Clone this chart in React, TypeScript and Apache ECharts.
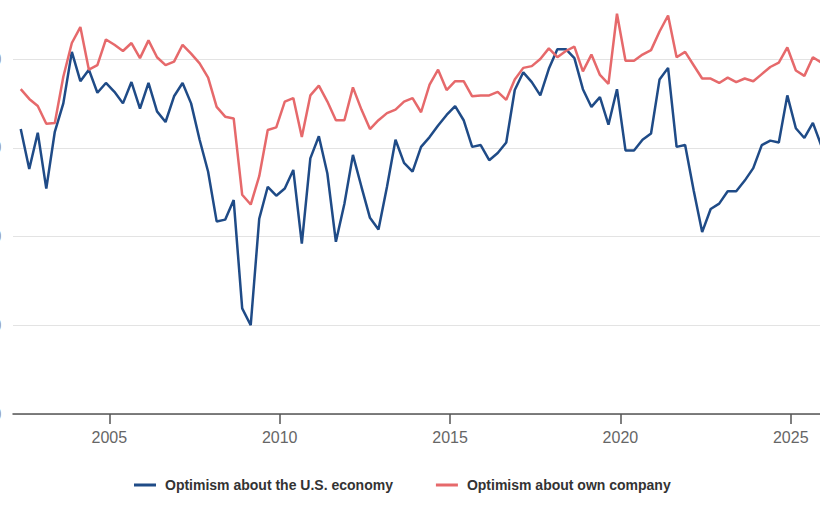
import React, { useEffect, useRef } from "react";
import * as echarts from "echarts";

// Quarterly survey readings, 2002 Q2 through 2025 Q4
const FIRST_YEAR = 2002;
const FIRST_QUARTER = 2;

const usEconomy = [
  62.1, 57.6, 61.7, 55.4, 61.8, 65.0, 70.8, 67.5, 68.8, 66.2, 67.3, 66.3, 65.0, 67.4, 64.4, 67.3,
  64.1, 62.9, 65.8, 67.3, 65.0, 60.9, 57.3, 51.7, 51.9, 54.1, 41.9, 40.0, 52.0, 55.6, 54.6, 55.4,
  57.5, 49.2, 58.8, 61.3, 57.1, 49.4, 53.7, 59.2, 55.6, 52.1, 50.8, 55.6, 60.9, 58.3, 57.3, 60.1,
  61.2, 62.5, 63.7, 64.7, 63.1, 60.1, 60.3, 58.6, 59.4, 60.6, 66.5, 68.5, 67.4, 65.9, 68.9, 71.1,
  71.1, 70.1, 66.6, 64.6, 65.7, 62.6, 66.6, 59.7, 59.7, 60.9, 61.6, 67.7, 69.0, 60.1, 60.3, 55.2,
  50.5, 53.1, 53.7, 55.1, 55.1, 56.3, 57.7, 60.3, 60.8, 60.6, 65.9, 62.2, 61.1, 62.8, 60.2,
];

const ownCompany = [
  66.6, 65.5, 64.7, 62.7, 62.8, 68.0, 71.8, 73.6, 68.8, 69.3, 72.2, 71.6, 70.9, 71.8, 70.1, 72.1,
  70.2, 69.3, 69.7, 71.6, 70.6, 69.5, 67.9, 64.6, 63.5, 63.3, 54.7, 53.6, 56.8, 62.0, 62.3, 65.2,
  65.6, 61.2, 65.9, 67.0, 65.2, 63.1, 63.1, 66.8, 64.3, 62.1, 63.1, 63.9, 64.3, 65.2, 65.6, 64.0,
  67.1, 68.8, 66.5, 67.5, 67.5, 65.8, 65.9, 65.9, 66.3, 65.4, 67.7, 69.0, 69.2, 70.0, 71.2, 70.2,
  70.9, 71.4, 68.6, 70.5, 68.2, 67.2, 75.1, 69.8, 69.8, 70.5, 71.0, 73.1, 74.9, 70.2, 70.8, 69.3,
  67.8, 67.8, 67.3, 67.9, 67.4, 67.8, 67.5, 68.3, 69.1, 69.6, 71.3, 68.7, 68.1, 70.2, 69.6,
];

const yearTicks = [2005, 2010, 2015, 2020, 2025];
const legendNames = ["Optimism about the U.S. economy", "Optimism about own company"];

// Survey quarter -> position on a fractional-year axis
const quarterPos = (i: number) => {
  const q0 = FIRST_QUARTER - 1 + i;
  const year = FIRST_YEAR + Math.floor(q0 / 4);
  const q = q0 % 4;
  return year + q * 0.25 + 0.15;
};

const toPoints = (vals: number[]) => vals.map((v, i) => [quarterPos(i), v]);

const FONT = "'Liberation Sans', Arial, Helvetica, sans-serif";

export default function App() {
  const ref = useRef<HTMLDivElement>(null);

  useEffect(() => {
    if (!ref.current) return;
    const chart = echarts.init(ref.current, undefined, { renderer: "svg" });
    chart.setOption({
      animation: false,
      backgroundColor: "#ffffff",
      grid: {
        left: 13,
        right: -1.4,
        top: -29.75,
        bottom: 96,
        containLabel: false,
        outerBoundsMode: "none",
      },
      legend: {
        left: 134,
        top: 478,
        padding: 0,
        icon: "rect",
        itemWidth: 22,
        itemHeight: 3,
        itemGap: 43,
        textStyle: {
          fontFamily: FONT,
          fontSize: 14,
          fontWeight: "bold",
          color: "#333333",
          padding: [0, 0, 0, 4],
        },
        data: legendNames,
      },
      xAxis: {
        type: "value",
        min: 2002.173,
        max: 2025.9,
        splitLine: { show: false },
        axisLine: { show: true, lineStyle: { color: "#555555", width: 1.5 } },
        axisTick: {
          show: true,
          customValues: yearTicks,
          length: 10,
          lineStyle: { color: "#555555", width: 1.5 },
        },
        axisLabel: {
          customValues: yearTicks,
          formatter: (v: number) => String(v),
          margin: 15,
          color: "#666666",
          fontFamily: FONT,
          fontSize: 16,
        },
      },
      yAxis: {
        type: "value",
        min: 30,
        max: 80,
        interval: 10,
        axisLine: { show: false },
        axisTick: { show: false },
        axisLabel: {
          margin: 11.5,
          color: "#999999",
          fontFamily: FONT,
          fontSize: 16,
        },
        splitLine: { lineStyle: { color: "#e3e3e3", width: 1 } },
      },
      series: [
        {
          name: legendNames[0],
          type: "line",
          data: toPoints(usEconomy),
          showSymbol: false,
          color: "#1f4b87",
          lineStyle: { width: 2.5, color: "#1f4b87" },
        },
        {
          name: legendNames[1],
          type: "line",
          data: toPoints(ownCompany),
          showSymbol: false,
          color: "#e6696b",
          lineStyle: { width: 2.5, color: "#e6696b" },
        },
      ],
    });
    return () => chart.dispose();
  }, []);

  return (
    <div
      ref={ref}
      style={{ position: "absolute", left: 0, top: 0, width: 820, height: 510 }}
    />
  );
}
